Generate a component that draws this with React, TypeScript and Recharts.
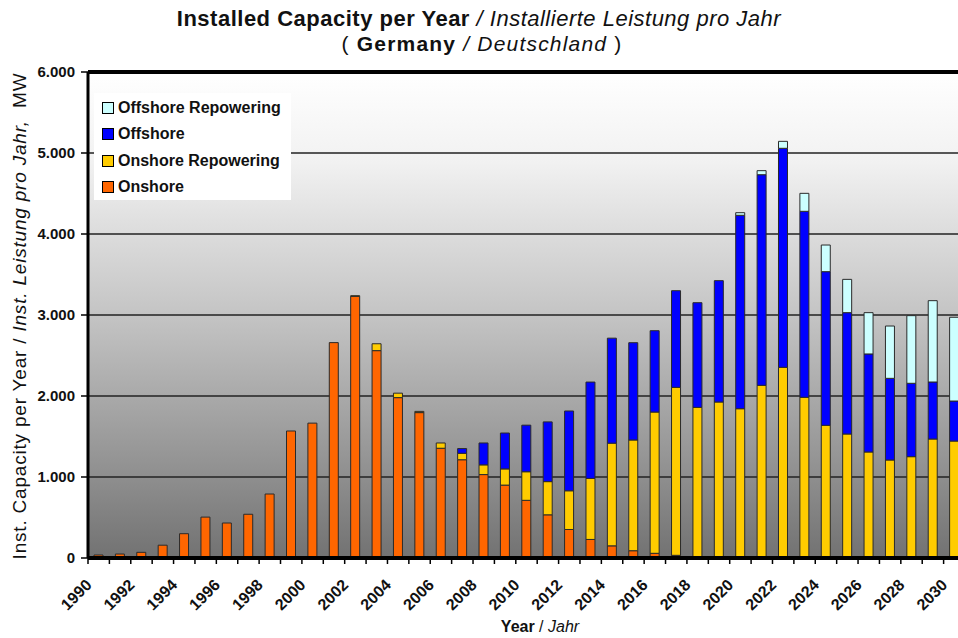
import React from 'react';
import { BarChart, Bar, XAxis, YAxis, CartesianGrid, ReferenceLine } from 'recharts';

const years = [
  1990, 1991, 1992, 1993, 1994, 1995, 1996, 1997, 1998, 1999,
  2000, 2001, 2002, 2003, 2004, 2005, 2006, 2007, 2008, 2009,
  2010, 2011, 2012, 2013, 2014, 2015, 2016, 2017, 2018, 2019,
  2020, 2021, 2022, 2023, 2024, 2025, 2026, 2027, 2028, 2029, 2030,
];

// MW per year
const onshore = [
  37, 49, 70, 158, 300, 505, 432, 540, 790, 1568,
  1665, 2659, 3230, 2560, 1980, 1795, 1355, 1213, 1030, 900,
  712, 533, 352, 229, 150, 90, 58, 33, 0, 0,
  0, 0, 0, 0, 0, 0, 0, 0, 0, 0, 0,
];
const onshoreRepowering = [
  0, 0, 0, 0, 0, 0, 0, 0, 0, 0,
  0, 0, 8, 85, 55, 15, 65, 80, 120, 200,
  353, 410, 478, 754, 1268, 1367, 1744, 2074, 1860, 1926,
  1843, 2132, 2354, 1984, 1638, 1531, 1309, 1210, 1251, 1469, 1444,
];
const offshore = [
  0, 0, 0, 0, 0, 0, 0, 0, 0, 0,
  0, 0, 0, 0, 0, 0, 0, 58, 270, 443,
  575, 737, 985, 1189, 1296, 1201, 1004, 1193, 1292, 1498,
  2388, 2600, 2704, 2296, 1897, 1498, 1210, 1008, 906, 704, 494,
];
const offshoreRepowering = [
  0, 0, 0, 0, 0, 0, 0, 0, 0, 0,
  0, 0, 0, 0, 0, 0, 0, 0, 0, 0,
  0, 0, 0, 0, 0, 0, 0, 0, 0, 0,
  32, 50, 86, 222, 329, 411, 510, 646, 835, 1004, 1034,
];
const yTicks = [0, 1000, 2000, 3000, 4000, 5000, 6000];

const series = [
  { key: 'onshore', name: 'Onshore', color: '#FF6600' },
  { key: 'onshoreRepowering', name: 'Onshore Repowering', color: '#FFCC00' },
  { key: 'offshore', name: 'Offshore', color: '#0000FF' },
  { key: 'offshoreRepowering', name: 'Offshore Repowering', color: '#CCFFFF' },
];

const data = years.map((year, i) => ({
  year,
  onshore: onshore[i],
  onshoreRepowering: onshoreRepowering[i],
  offshore: offshore[i],
  offshoreRepowering: offshoreRepowering[i],
}));

const FONT = '"Liberation Sans", Arial, sans-serif';
const CHART_W = 965;
const CHART_H = 638;
const PLOT_LEFT = 88;
const PLOT_TOP = 72;
const PLOT_BOTTOM = 558;
const CAT_W = (CHART_W - PLOT_LEFT) / years.length;

const fmt = (v: number) => v.toLocaleString('de-DE');

const XTick = (props: any) => {
  const { x, payload } = props;
  const half = CAT_W / 2;
  const lx = x - 6;
  const ly = PLOT_BOTTOM + 28;
  return (
    <g>
      <line x1={x - half} x2={x - half} y1={PLOT_BOTTOM} y2={PLOT_BOTTOM + 6} stroke="#000" strokeWidth={1.5} />
      {payload.value % 2 === 0 && (
        <g transform={`translate(${lx} ${ly}) rotate(-45)`}>
          <text x={0} y={0} textAnchor="end" fontFamily={FONT} fontSize={16} fontWeight="bold" fill="#111">
            {payload.value}
          </text>
        </g>
      )}
    </g>
  );
};

export default function App() {
  return (
    <div style={{ position: 'absolute', left: 0, top: 0, width: 958, height: 638, overflow: 'hidden', background: '#fff', fontFamily: FONT }}>
      <div style={{ position: 'absolute', top: 5, left: 0, width: 958, textAlign: 'center', color: '#111' }}>
        <div style={{ fontSize: 22, lineHeight: '27px', letterSpacing: 0.5 }}>
          <b>Installed Capacity per Year</b> <i>/ Installierte Leistung pro Jahr</i>
        </div>
        <div style={{ fontSize: 21, lineHeight: '24px', letterSpacing: 1.2, whiteSpace: 'pre', paddingLeft: 6 }}>
          {'( '}<b>Germany</b> <i>/ Deutschland</i>{' )'}
        </div>
      </div>

      {/* plot background */}
      <div
        style={{
          position: 'absolute',
          left: PLOT_LEFT,
          top: PLOT_TOP,
          width: CHART_W - PLOT_LEFT,
          height: PLOT_BOTTOM - PLOT_TOP,
          background: 'linear-gradient(to bottom, #ffffff 0%, #f2f2f2 18%, #c4c4c4 50%, #949494 80%, #727272 100%)',
        }}
      />

      <div style={{ position: 'absolute', left: 0, top: 0 }}>
        <BarChart width={CHART_W} height={CHART_H} data={data} margin={{ top: PLOT_TOP, right: 0, left: 0, bottom: 0 }} barSize={9}>
          <CartesianGrid vertical={false} stroke="#222" strokeWidth={1.3} />
          <XAxis
            dataKey="year"
            height={CHART_H - PLOT_BOTTOM}
            interval={0}
            tickLine={false}
            axisLine={{ stroke: '#000', strokeWidth: 4 }}
            tick={<XTick />}
          />
          <YAxis
            width={PLOT_LEFT}
            domain={[0, 6000]}
            ticks={yTicks}
            tickFormatter={fmt}
            axisLine={{ stroke: '#000', strokeWidth: 3 }}
            tickLine={{ stroke: '#000', strokeWidth: 1.5 }}
            tickSize={7}
            tickMargin={6}
            tick={{ fontFamily: FONT, fontSize: 15, fontWeight: 'bold', fill: '#111' }}
          />
          <ReferenceLine y={6000} stroke="#000" strokeWidth={4} />
          {series.map((s) => (
            <Bar
              key={s.key}
              dataKey={s.key}
              name={s.name}
              stackId="a"
              fill={s.color}
              stroke="#2a2a2a"
              strokeWidth={1}
              isAnimationActive={false}
            />
          ))}
        </BarChart>
      </div>

      {/* y axis title */}
      <div
        style={{
          position: 'absolute',
          left: 20 - 270,
          top: 316 - 11,
          width: 540,
          height: 22,
          lineHeight: '22px',
          textAlign: 'center',
          fontSize: 19,
          letterSpacing: 0.8,
          color: '#111',
          transform: 'rotate(-90deg)',
          whiteSpace: 'pre',
        }}
      >
        {'Inst. Capacity per Year / '}
        <i>{'Inst. Leistung pro Jahr,'}</i>
        {'  MW'}
      </div>

      {/* x axis title */}
      <div style={{ position: 'absolute', left: 0, width: 1080, top: 618, textAlign: 'center', fontSize: 16, color: '#111' }}>
        <b>Year</b> / <i>Jahr</i>
      </div>

      {/* legend */}
      <div style={{ position: 'absolute', left: 94, top: 93, width: 197, height: 107, background: '#fff' }}>
        {[...series].reverse().map((s, i) => (
          <div key={s.key} style={{ position: 'absolute', left: 8, top: 6 + i * 26.3, height: 18, display: 'flex', alignItems: 'center' }}>
            <span style={{ display: 'inline-block', width: 10, height: 10, background: s.color, border: '1px solid #000', marginRight: 4 }} />
            <span style={{ fontSize: 16, fontWeight: 'bold', color: '#111' }}>{s.name}</span>
          </div>
        ))}
      </div>
    </div>
  );
}
